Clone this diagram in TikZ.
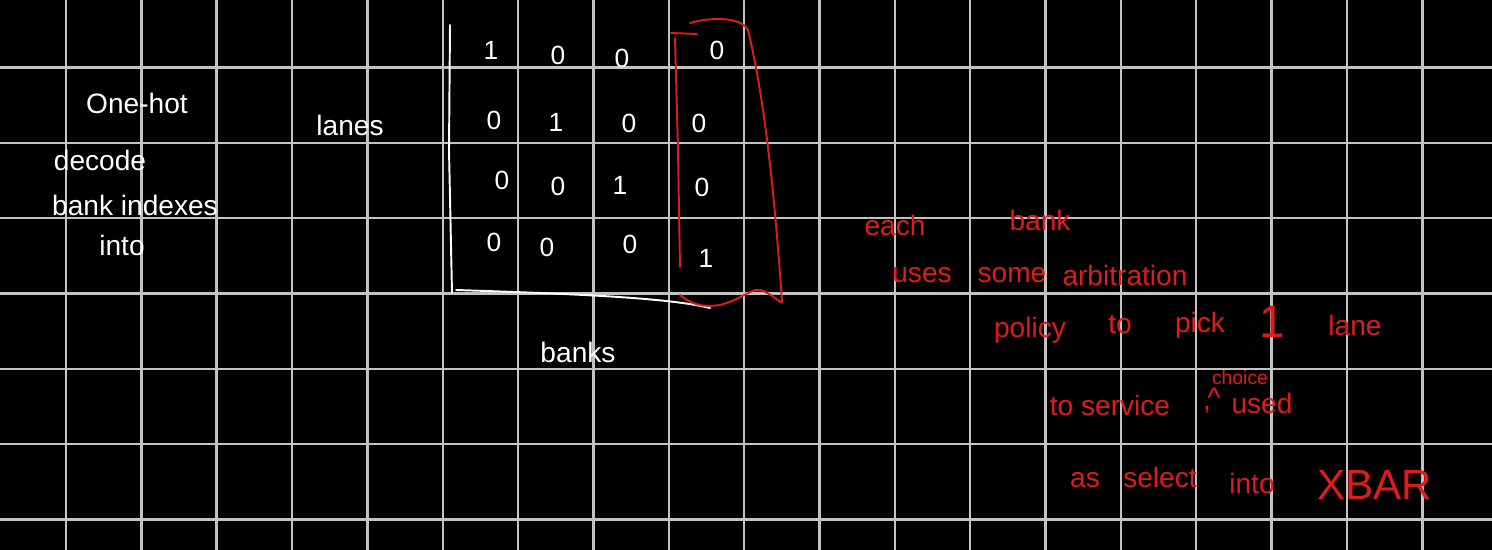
\documentclass[tikz,border=0pt]{standalone}
\usepackage{fontspec}
\setmainfont{Liberation Sans}
\definecolor{gridc}{RGB}{195,195,195}
\definecolor{redink}{RGB}{222,28,28}
\newcommand{\gap}{75.35}
\tikzset{
  gridline/.style={gridc, line width=1.4pt},
  chalk/.style={white, font=\fontsize{16}{19}\selectfont, inner sep=0pt},
  redchalk/.style={redink, font=\fontsize{16}{19}\selectfont, inner sep=0pt},
  digit/.style={white, font=\fontsize{15}{18}\selectfont, inner sep=0pt},
  axisline/.style={white, line width=1.1pt, line cap=round},
  redline/.style={redink, line width=1.1pt, line cap=round, line join=round}
}

\begin{document}
\begin{tikzpicture}[x=0.02cm,y=-0.02cm]
  \fill[black] (0,0) rectangle (1492,550);
  \useasboundingbox (0,0) rectangle (1492,550);
  % grid
  \foreach \i in {0,...,18}
    \draw[gridline] ({66+\i*\gap},0) -- ({66+\i*\gap},550);
  \foreach \j in {0,...,6}
    \draw[gridline] (0,{67.5+\j*\gap}) -- (1492,{67.5+\j*\gap});

  % left note
  \node[chalk] (onehot) at (137,103) {One-hot};
  \node[chalk] (decode) at (100,160) {decode};
  \node[chalk] (bankidx) at (135,205) {bank indexes};
  \node[chalk] (into) at (122,245) {into};
  \node[chalk] (lanes) at (350,125) {lanes};
  \node[chalk] (banks) at (578,352) {banks};

  % matrix entries
  \foreach \x/\y/\v/\n in {491/50/1/m11, 558/55/0/m12, 622/58/0/m13, 717/50/0/m14,
                           494/120/0/m21, 556/122/1/m22, 629/123/0/m23, 699/123/0/m24,
                           502/180/0/m31, 558/186/0/m32, 620/185/1/m33, 702/187/0/m34,
                           494/242/0/m41, 547/247/0/m42, 630/244/0/m43, 706/258/1/m44}
    \node[digit] (\n) at (\x,\y) {\v};

  % axes
  \draw[axisline] (450,25) -- (449,150) -- (452,293);
  \draw[axisline] (456,290) .. controls (580,294) and (670,298) .. (710,308);

  % red bracket round last column
  \draw[redline] (671,33) -- (697,34);
  \draw[redline] (675,38) -- (678,150) -- (680,267);
  \draw[redline] (680,295) .. controls (690,303) and (700,308) .. (720,305)
    .. controls (740,300) and (752,288) .. (760,290)
    .. controls (770,292) and (782,305) .. (782,302)
    .. controls (775,200) and (765,100) .. (748,30)
    .. controls (742,18) and (715,16) .. (690,23);

  % red note
  \foreach \x/\y/\t/\n in {895/225/each/each, 1040/220/bank/bank,
                           922/275/uses/uses, 1012/275/some/some, 1125/275/arbitration/arb,
                           1030/330/policy/policy, 1120/325/to/tofirst, 1200/325/pick/pick,
                           1355/325/lane/lane,
                           1110/405/to service/service, 1262/403/used/used,
                           1085/480/as/as, 1160/477/select/select, 1252/483/into/intoxbar}
    \node[redchalk] (\n) at (\x,\y) {\t};
  \node[redchalk, font=\fontsize{26}{30}\selectfont] (one) at (1272,322) {1};
  \node[redchalk, font=\fontsize{11}{13}\selectfont] (choice) at (1240,378) {choice};
  \node[redchalk] (comma) at (1207,410) {,};
  \node[redchalk] (caret) at (1214,398) {\^{}};
  \node[redchalk, font=\fontsize{24}{28}\selectfont] (xbar) at (1375,485) {XBAR};
\end{tikzpicture}
\end{document}
